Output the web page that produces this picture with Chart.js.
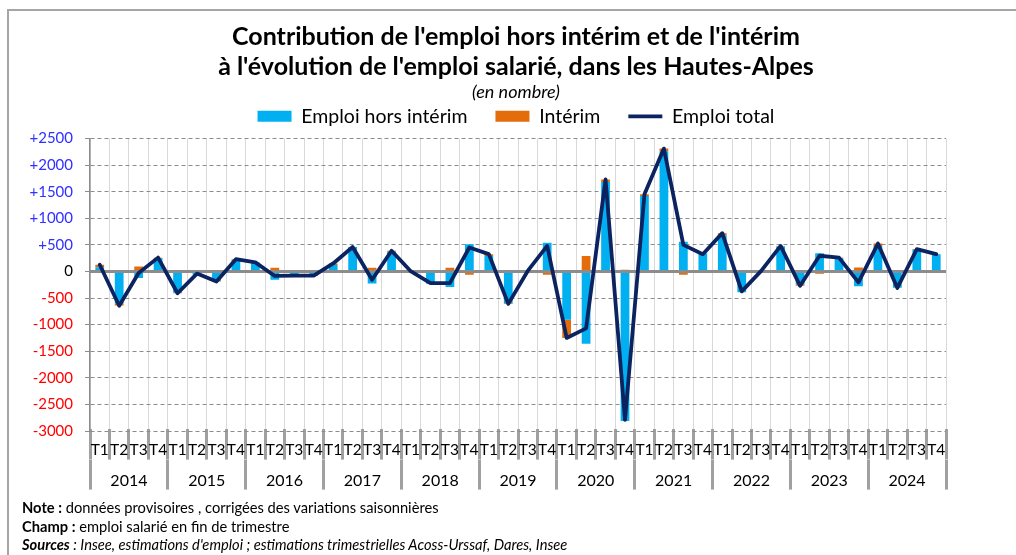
<!DOCTYPE html>
<html>
<head>
<meta charset="utf-8">
<script src="https://cdn.jsdelivr.net/npm/chart.js@4/dist/chart.umd.min.js"></script>
<style>
  body { margin: 0; background: #fff; width: 1016px; height: 555px; overflow: hidden; position: relative; font-family: Lato, sans-serif; }
  .frame { position: absolute; left: 7px; top: 9px; width: 1100px; height: 600px; border: 2px solid #a6a6a6; box-sizing: border-box; }
  .wrap { position: absolute; left: 0; top: 0; width: 1016px; height: 500px; }
  .notes { position: absolute; left: 22px; top: 498px; font-size: 14.7px; line-height: 18.5px; color: #000; }
</style>
</head>
<body>
<div class="frame"></div>
<div class="wrap"><canvas id="chart"></canvas></div>
<div class="notes">
  <div><b>Note :</b> données provisoires , corrigées des variations saisonnières</div>
  <div><b>Champ :</b> emploi salarié en fin de trimestre</div>
  <div><i><b>Sources</b> : Insee, estimations d'emploi ; estimations trimestrielles Acoss-Urssaf, Dares, Insee</i></div>
</div>
<script>
// trimestres 2014 T1 -> 2024 T4
const quarters = [
  'T1','T2','T3','T4', 'T1','T2','T3','T4', 'T1','T2','T3','T4', 'T1','T2','T3','T4',
  'T1','T2','T3','T4', 'T1','T2','T3','T4', 'T1','T2','T3','T4', 'T1','T2','T3','T4',
  'T1','T2','T3','T4', 'T1','T2','T3','T4', 'T1','T2','T3','T4'
];
const years = ['2014','2015','2016','2017','2018','2019','2020','2021','2022','2023','2024'];

const horsInterim = [
  80, -600, -125, 250,
  -400, -60, -180, 210,
  170, -155, -70, -70,
  120, 460, -225, 370,
  -10, -230, -290, 510,
  290, -600, 0, 540,
  -910, -1360, 1680, -2810,
  1420, 2260, 560, 340,
  680, -390, 0, 470,
  -240, 340, 250, -280,
  480, -300, 410, 325
];
const interim = [
  45, -40, 95, 10,
  -10, 20, -10, 20,
  0, 70, -10, -10,
  30, 0, 70, 20,
  10, 10, 70, -60,
  35, -10, 10, -60,
  -340, 290, 50, 30,
  30, 50, -60, -20,
  40, 10, 10, 10,
  -30, -45, 10, 75,
  45, -10, 10, 0
];
const emploiTotal = [
  125, -645, -30, 260,
  -410, -40, -190, 230,
  170, -85, -80, -80,
  150, 460, -155, 390,
  0, -220, -220, 450,
  325, -610, 10, 480,
  -1250, -1070, 1730, -2790,
  1450, 2310, 500, 325,
  720, -375, 10, 480,
  -270, 295, 260, -205,
  525, -310, 420, 325
];

Chart.defaults.font.family = 'Lato, sans-serif';
Chart.defaults.color = '#000';

// ligne du zéro, pleine et épaisse, sous la courbe
const zeroLine = {
  id: 'zeroLine',
  beforeDatasetDraw(chart, args) {
    if (args.index !== 2) return;
    const y = chart.scales.y.getPixelForValue(0);
    const ctx = chart.ctx;
    ctx.save();
    ctx.strokeStyle = '#8c8c8c';
    ctx.lineWidth = 3;
    ctx.beginPath();
    ctx.moveTo(chart.chartArea.left, y);
    ctx.lineTo(chart.chartArea.right, y);
    ctx.stroke();
    ctx.restore();
  }
};

new Chart(document.getElementById('chart'), {
  type: 'bar',
  data: {
    labels: quarters,
    datasets: [
      {
        label: 'Emploi hors intérim',
        data: horsInterim,
        backgroundColor: '#00b0f0',
        barPercentage: 0.45,
        categoryPercentage: 1,
        order: 1
      },
      {
        label: 'Intérim',
        data: interim,
        backgroundColor: '#e46c0a',
        barPercentage: 0.45,
        categoryPercentage: 1,
        order: 1
      },
      {
        type: 'line',
        label: 'Emploi total',
        data: emploiTotal,
        borderColor: '#0b2360',
        backgroundColor: '#0b2360',
        borderWidth: 3.8,
        borderJoinStyle: 'round',
        borderCapStyle: 'round',
        pointRadius: 0,
        tension: 0,
        stack: 'total',
        order: 0
      }
    ]
  },
  plugins: [zeroLine],
  options: {
    responsive: true,
    maintainAspectRatio: false,
    animation: false,
    layout: { padding: { left: 16, right: 0, top: 8, bottom: 8 } },
    plugins: {
      tooltip: { enabled: false },
      title: {
        display: true,
        text: ["Contribution de l'emploi hors intérim et de l'intérim",
               "à l'évolution de l'emploi salarié, dans les Hautes-Alpes"],
        font: { size: 25, weight: 'bold', lineHeight: 1.2 },
        color: '#000',
        padding: { top: 14, bottom: -1 }
      },
      subtitle: {
        display: true,
        text: '(en nombre)',
        font: { size: 18, style: 'italic', lineHeight: 1.2 },
        color: '#000',
        padding: { top: 0, bottom: -24 }
      },
      legend: {
        display: true,
        position: 'top',
        labels: {
          usePointStyle: true,
          pointStyleWidth: 34,
          boxHeight: 11,
          padding: 28,
          font: { size: 19.5 },
          color: '#000',
          sort: (a, b) => a.datasetIndex - b.datasetIndex,
          generateLabels(chart) {
            const items = Chart.defaults.plugins.legend.labels.generateLabels(chart);
            items.forEach(it => { it.pointStyle = it.datasetIndex === 2 ? 'line' : 'rect'; });
            return items;
          }
        }
      }
    },
    scales: {
      x: {
        stacked: true,
        offset: true,
        grid: {
          offset: true,
          color: '#d9d9d9',
          lineWidth: 1,
          tickLength: 31,
          tickWidth: 3,
          tickColor: '#a0a0a0'
        },
        border: { display: false },
        ticks: { autoSkip: false, maxRotation: 0, padding: -19, font: { size: 15.5 }, color: '#000' },
        afterFit(scale) { scale.height = 31; }
      },
      x2: {
        type: 'category',
        labels: years,
        position: 'bottom',
        offset: true,
        grid: {
          offset: true,
          drawOnChartArea: false,
          tickLength: 30,
          tickWidth: 3,
          tickColor: '#a0a0a0'
        },
        border: { display: false },
        ticks: { autoSkip: false, maxRotation: 0, padding: -18, font: { size: 16 }, color: '#000' },
        afterFit(scale) { scale.height = 30; }
      },
      y: {
        stacked: true,
        min: -3000,
        max: 2500,
        grid: {
          color: ctx => ctx.tick && ctx.tick.value === 0 ? 'rgba(0,0,0,0)' : '#8c8c8c',
          lineWidth: 1,
          tickLength: 5,
          tickColor: '#8c8c8c'
        },
        border: { display: true, color: '#8c8c8c', width: 1.5, dash: [4, 3] },
        ticks: {
          stepSize: 500,
          padding: 12,
          font: { size: 15 },
          color: ctx => ctx.tick.value > 0 ? '#3030ff' : (ctx.tick.value < 0 ? '#ff0000' : '#000'),
          callback: v => v > 0 ? '+' + v : String(v)
        },
        afterFit(scale) { scale.width = 74; }
      },
      y2: {
        position: 'right',
        display: true,
        grid: { display: false, drawOnChartArea: false },
        border: { display: false },
        ticks: { display: false },
        afterFit(scale) { scale.width = 70; }
      }
    }
  }
});
</script>
</body>
</html>
